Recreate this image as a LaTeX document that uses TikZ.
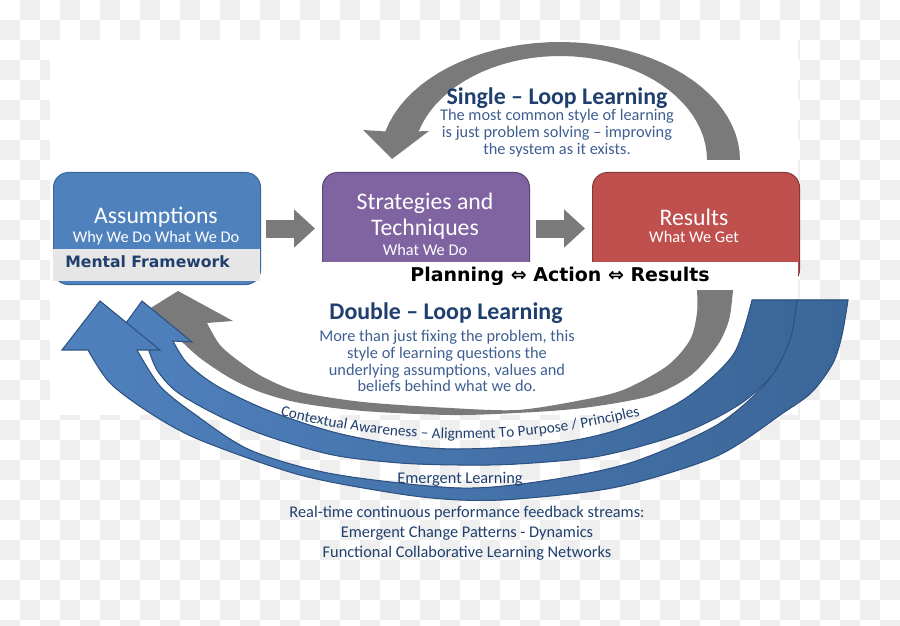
\documentclass[tikz,border=0pt]{standalone}
\usepackage{fontspec}
\setmainfont{Carlito}
\newfontfamily\widefont{DejaVu Sans}
\usetikzlibrary{arrows.meta,decorations.text}

\definecolor{checkgray}{HTML}{EFEFEF}
\definecolor{assumblue}{HTML}{4F81BD}
\definecolor{assumline}{HTML}{3A679C}
\definecolor{stratpurple}{HTML}{8064A2}
\definecolor{stratline}{HTML}{5C4878}
\definecolor{resultred}{HTML}{C0504D}
\definecolor{resultline}{HTML}{8C3836}
\definecolor{framegray}{HTML}{E6E6E6}
\definecolor{loopgray}{HTML}{7A7A7A}
\definecolor{navy}{HTML}{1F3F6E}
\definecolor{bodyblue}{HTML}{3F5F92}
\definecolor{streamblue}{HTML}{4F81BD}
\definecolor{streamdark}{HTML}{3B6698}
\definecolor{streamline}{HTML}{2E5283}

\newcommand\contextstyle{\color{navy}\fontsize{8.7}{10}\selectfont}

\tikzset{
  box/.style={rounded corners=3mm, line width=0.6pt, minimum width=41.4mm, minimum height=22.4mm, anchor=north west, inner sep=0pt},
  boxtitle/.style={text=white, font=\fontsize{13.5}{15}\selectfont},
  boxsub/.style={text=white, font=\fontsize{9.3}{11}\selectfont},
  blockarrow/.style={draw=loopgray, line width=3.6mm, -{Triangle[width=7.4mm,length=4.2mm]}},
  looptitle/.style={text=navy, font=\bfseries\fontsize{13.6}{15}\selectfont},
  loopbody/.style={text=bodyblue, align=center, font=\fontsize{9.3}{9.6}\selectfont},
  stream/.style={left color=streamblue, right color=streamdark, draw=streamline, line width=0.6pt},
  streamtext/.style={text=navy, align=center, font=\fontsize{9.3}{11.4}\selectfont},
}

\begin{document}
\begin{tikzpicture}[x=0.2mm,y=-0.2mm]
\useasboundingbox (0,0) rectangle (900,626);

% background pattern
\begin{scope}
\clip (0,0) rectangle (900,626);
\fill[white] (0,0) rectangle (900,626);
\foreach \i in {0,...,44}
  \foreach \j in {0,...,31} {
    \pgfmathtruncatemacro\chk{\i+\j}
    \ifodd\chk \fill[checkgray] (\i*20,\j*20) rectangle ++(20,20); \fi
  }
\end{scope}
\fill[white] (50,40) rectangle (798,415);

% single loop
\fill[loopgray] plot[domain=0:166,samples=40] ({560+180*cos(\x)},{160-118*sin(\x)})
  -- (363,130) -- (392,159) -- (429,131)
  -- plot[domain=164:0,samples=40] ({560+147*cos(\x)},{160-104*sin(\x)}) -- cycle;

% double loop
\fill[loopgray] plot[smooth] coordinates {(733,290) (729,320) (717,346) (690,376) (650,396) (583,408) (517,413) (450,415) (363,411) (300,403) (260,392) (230,378) (200,358) (180,340) (165,326)}
  -- (125,324) -- (178,291) -- (233,321)
  -- plot[smooth] coordinates {(207,323) (220,345) (240,362) (265,378) (300,392) (363,402) (450,408) (517,410) (577,401) (623,390) (667,366) (690,340) (697,313) (697,290)} -- cycle;

% boxes
\node[box, fill=assumblue, draw=assumline] (assum) at (53,172) {};
\node[fill=framegray, minimum width=41.4mm, minimum height=6.4mm, anchor=north west, inner sep=0pt] (mental) at (53,249) {};
\node[anchor=west, inner sep=0pt, text=navy, font=\widefont\bfseries\fontsize{8.9}{10}\selectfont] (mentaltext) at (65,262) {Mental Framework};
\node[boxtitle] (assumtitle) at (156,217) {Assumptions};
\node[boxsub] (assumsub) at (156,238) {Why We Do What We Do};

\node[box, fill=stratpurple, draw=stratline] (strat) at (322,172) {};
\node[boxtitle] (strattitle) at (425,203) {Strategies and};
\node[boxtitle] (strattitleb) at (425,229) {Techniques};
\node[boxsub] (stratsub) at (425,250) {What We Do};

\node[box, fill=resultred, draw=resultline] (result) at (592,172) {};
\node[boxtitle] (resulttitle) at (694,217) {Results};
\node[boxsub] (resultsub) at (694,237) {What We Get};

\node[fill=white, minimum width=95.2mm, minimum height=5.6mm, inner sep=0pt, text=black, font=\widefont\bfseries\fontsize{10.8}{12}\selectfont] (plan) at (560,276) {Planning ⇔ Action ⇔ Results};

\draw[blockarrow, shorten <=1mm, shorten >=1.4mm] (assum.east |- strat.west) -- (strat.west);
\draw[blockarrow, shorten <=1.2mm, shorten >=1.4mm] (strat.east) -- (result.west);

% feedback streams
\filldraw[stream] plot[smooth] coordinates {(797,300) (792,335) (783,363) (743,402) (683,433) (600,456) (517,464) (460,465) (400,463) (333,455) (267,436) (217,415) (177,392) (157,370) (147,345)}
  -- (110,345) -- (142,301) -- (192,342)
  -- plot[smooth] coordinates {(173,341) (187,363) (217,386) (267,410) (333,432) (400,445) (460,449) (550,444) (617,430) (683,400) (733,355) (752,300)} -- cycle;
\filldraw[stream] plot[smooth] coordinates {(848,300) (842,335) (833,363) (812,392) (783,413) (717,456) (617,487) (517,499) (460,500) (400,494) (300,475) (200,440) (150,413) (110,383) (88,350)}
  -- (62,350) -- (100,301) -- (160,350)
  -- plot[smooth] coordinates {(137,350) (160,386) (193,413) (250,450) (333,474) (460,488) (550,480) (633,462) (717,425) (767,382) (790,340) (797,300)} -- cycle;

% texts
\node[looptitle] (singletitle) at (557,98) {Single – Loop Learning};
\node[loopbody] (singlebody) at (557,133) {The most common style of learning\\is just problem solving – improving\\the system as it exists.};
\node[looptitle] (doubletitle) at (446,313) {Double – Loop Learning};
\node[loopbody] (doublebody) at (447,361) {More than just fixing the problem, this\\style of learning questions the\\underlying assumptions, values and\\beliefs behind what we do.};

\path[decorate, decoration={text along path, text align=center,
  text={|\contextstyle|Contextual Awareness – Alignment To Purpose / Principles}}]
  (262,411) .. controls (400,448) and (520,448) .. (658,411);

\node[streamtext] (emergent) at (460,479) {Emergent Learning};
\node[streamtext] (streams) at (467,533) {Real-time continuous performance feedback streams:\\Emergent Change Patterns - Dynamics\\Functional Collaborative Learning Networks};
\end{tikzpicture}
\end{document}
